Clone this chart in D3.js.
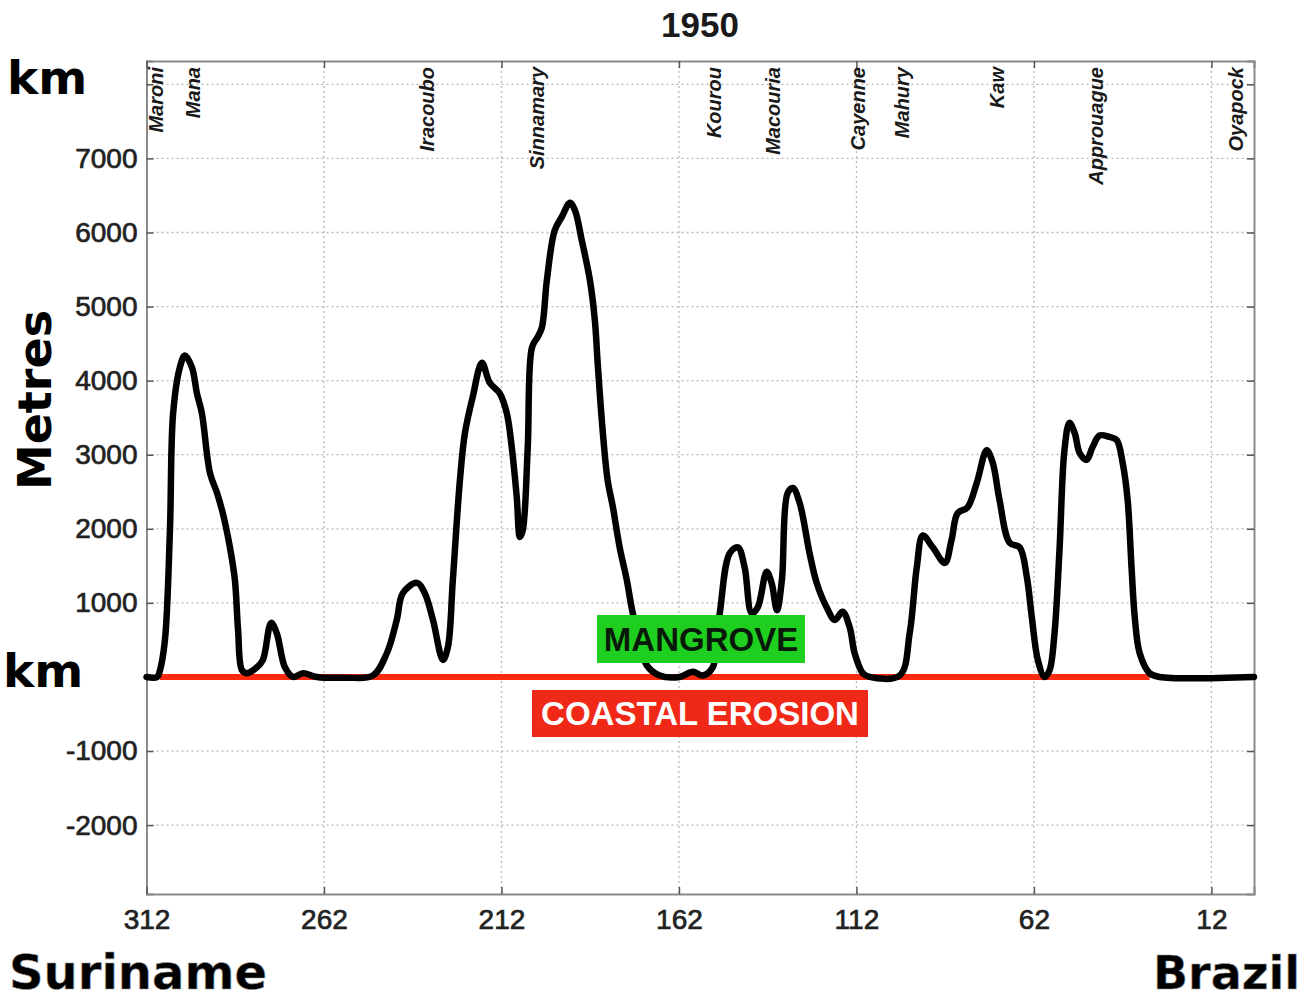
<!DOCTYPE html>
<html>
<head>
<meta charset="utf-8">
<script src="https://cdn.jsdelivr.net/npm/d3@7"></script>
<style>
  html, body { margin: 0; padding: 0; background: #ffffff; }
  svg { display: block; }
</style>
</head>
<body>
<svg id="chart" width="1304" height="999"></svg>
<script>
// ---------------- DATA ----------------
const title = "1950";
const distanceKm = [312, 309.0, 308.2, 306.8, 305.4, 304.5, 302.6, 301.2, 299.2, 297.8,
  296.4, 294.1, 292.1, 290.5, 288.5, 287.1, 286.2, 285.1, 283.7, 280.9,
  279.2, 276.9, 275.3, 273.0, 270.7, 267.9, 264.0, 256.0, 248.2, 244.3,
  241.5, 239.8, 235.8, 233.6, 231.3, 228.5, 227.1, 225.7, 223.7, 222.3,
  220.1, 217.5, 215.3, 212.5, 210.5, 209.1, 207.7, 206.8, 206.0, 204.6,
  203.4, 201.8, 200.6, 199.2, 197.0, 195.0, 192.7, 191.3, 189.4, 187.1,
  185.7, 184.9, 183.5, 182.1, 180.6, 178.7, 176.7, 175.0, 171.1, 167.4,
  161.8, 158.1, 155.3, 152.5, 150.5, 147.7, 145.4, 143.5, 141.5, 139.8,
  137.3, 135.9, 134.4, 133.0, 131.4, 129.9, 128.0, 125.2, 123.2, 120.4,
  118.1, 115.9, 113.9, 112.5, 110.2, 108.3, 99.8, 97.0, 95.0, 93.3,
  90.5, 87.1, 85.2, 83.5, 80.7, 78.1, 75.3, 73.6, 71.7, 68.8,
  66.0, 64.0, 62.6, 60.9, 59.0, 57.6, 56.2, 54.8, 53.4, 52.0,
  50.5, 49.1, 47.2, 45.5, 43.5, 40.7, 38.7, 37.0, 35.6, 34.5,
  33.6, 32.2, 29.4, 26.6, 0];
const widthMetres = [0, 0, 90, 500, 1980, 3560, 4180, 4340, 4180, 3830,
  3560, 2750, 2480, 2210, 1750, 1310, 630, 90, 50, 130,
  230, 730, 590, 130, 0, 50, 0, -10, 20, 320,
  770, 1130, 1270, 1130, 770, 230, 400, 1310, 2660, 3290,
  3780, 4240, 3970, 3830, 3560, 3100, 2430, 1890, 1980, 3100,
  4450, 4590, 4720, 5360, 6030, 6210, 6400, 6300, 5900, 5360,
  4820, 4240, 3330, 2660, 2290, 1750, 1310, 860, 160, 20,
  0, 70, 20, 130, 860, 1670, 1750, 1480, 860, 940,
  1420, 1270, 900, 1310, 2480, 2550, 2350, 1670, 1270, 940,
  770, 880, 670, 320, 50, 0, 20, 590, 1480, 1910,
  1750, 1540, 1850, 2210, 2290, 2620, 3060, 2890, 2390, 1810,
  1750, 1350, 810, 230, 0, 90, 590, 1710, 3060, 3430,
  3290, 3020, 2930, 3100, 3260, 3240, 3200, 2890, 2390, 1480,
  810, 320, 50, 0, 0];
const xTicks = [312, 262, 212, 162, 112, 62, 12];
const yTicks = [8000, 7000, 6000, 5000, 4000, 3000, 2000, 1000, 0, -1000, -2000];
// labels hidden behind the "km" boxes in the original
const yHiddenLabels = [8000, 0];
const riverNames = ["Maroni", "Mana", "Iracoubo", "Sinnamary", "Kourou", "Macouria",
  "Cayenne", "Mahury", "Kaw", "Approuague", "Oyapock"];
const riverKm = [309.3, 298.9, 233.0, 202.0, 152.0, 135.6, 111.7, 99.3, 72.3, 44.4, 5.0];
const erosionKm = [308.2, 29.4];
const mangroveLabel = "MANGROVE";
const erosionLabel = "COASTAL EROSION";
const yLabel = "Metres";
const unitLabel = "km";
const leftLabel = "Suriname";
const rightLabel = "Brazil";

// ---------------- LAYOUT ----------------
const svg = d3.select("#chart");
const L = 146.5, R = 1254, T = 61, B = 894;
const x = d3.scaleLinear().domain([312, 0]).range([L, R]);
const y = d3.scaleLinear().domain([-2930, 8315]).range([B, T]);

svg.append("rect").attr("width", 1304).attr("height", 999).attr("fill", "#ffffff");

// gridlines
const grid = svg.append("g");
grid.selectAll("line.gy").data(yTicks).join("line")
  .attr("x1", L).attr("x2", R)
  .attr("y1", d => y(d)).attr("y2", d => y(d))
  .attr("stroke", "#b8b8b8").attr("stroke-width", 1.3)
  .attr("stroke-dasharray", "2,3");
grid.selectAll("line.gx").data(xTicks.slice(1)).join("line")
  .attr("x1", d => x(d)).attr("x2", d => x(d))
  .attr("y1", T).attr("y2", B)
  .attr("stroke", "#b8b8b8").attr("stroke-width", 1.3)
  .attr("stroke-dasharray", "2,3");

// axes via d3
const fontTick = "'Liberation Sans', Arial, sans-serif";
const yFmt = d => yHiddenLabels.includes(d) ? "" : String(d);
const yAxisL = d3.axisLeft(y).tickValues(yTicks).tickSize(-7).tickPadding(9).tickFormat(yFmt);
const gy = svg.append("g").attr("transform", `translate(${L},0)`).call(yAxisL);
const yAxisR = d3.axisRight(y).tickValues(yTicks).tickSize(-7).tickFormat("");
const gyr = svg.append("g").attr("transform", `translate(${R},0)`).call(yAxisR);
const xAxisB = d3.axisBottom(x).tickValues(xTicks).tickSize(-7).tickPadding(15).tickFormat(d => String(d));
const gx = svg.append("g").attr("transform", `translate(0,${B})`).call(xAxisB);
const xAxisT = d3.axisTop(x).tickValues(xTicks).tickSize(-7).tickFormat("");
const gxt = svg.append("g").attr("transform", `translate(0,${T})`).call(xAxisT);

[gy, gyr, gx, gxt].forEach(g => {
  g.select(".domain").attr("stroke", "#8a8a8a").attr("stroke-width", 2);
  g.selectAll(".tick line").attr("stroke", "#555").attr("stroke-width", 1.5);
  g.selectAll(".tick text")
    .attr("font-family", fontTick).attr("font-size", 28)
    .attr("fill", "#222").attr("stroke", "#222").attr("stroke-width", 0.7);
});
gx.selectAll(".tick text").attr("dy", "0.71em");

// red erosion line
svg.append("line")
  .attr("x1", x(erosionKm[0])).attr("x2", x(erosionKm[1]))
  .attr("y1", y(0)).attr("y2", y(0))
  .attr("stroke", "#ff2a10").attr("stroke-width", 6);

// curve
const pts = distanceKm.map((k, i) => [k, widthMetres[i]]);
const line = d3.line()
  .x(d => x(d[0])).y(d => y(d[1]))
  .curve(d3.curveCatmullRom.alpha(0.5));
svg.append("path").datum(pts)
  .attr("d", line)
  .attr("fill", "none").attr("stroke", "#000")
  .attr("stroke-width", 6.5).attr("stroke-linejoin", "round").attr("stroke-linecap", "round");

// river labels
svg.append("g").selectAll("text").data(riverNames).join("text")
  .attr("transform", (d, i) => `translate(${x(riverKm[i]) + 7},67) rotate(-90)`)
  .attr("text-anchor", "end")
  .attr("font-family", fontTick).attr("font-size", 20)
  .attr("font-style", "italic").attr("font-weight", "bold")
  .attr("fill", "#1a1a1a")
  .text(d => d);

// title
svg.append("text").attr("x", 700).attr("y", 37).attr("text-anchor", "middle")
  .attr("font-family", fontTick).attr("font-size", 35).attr("font-weight", "bold")
  .attr("fill", "#1a1a1a").text(title);

// MANGROVE box
const mg = svg.append("g");
mg.append("rect").attr("x", 597).attr("y", 615).attr("width", 208).attr("height", 48)
  .attr("fill", "#1fcf1f");
mg.append("text").attr("x", 701).attr("y", 651).attr("text-anchor", "middle")
  .attr("font-family", fontTick).attr("font-size", 33).attr("font-weight", "bold")
  .attr("fill", "#0a1a0a").text(mangroveLabel);

// COASTAL EROSION box
const ce = svg.append("g");
ce.append("rect").attr("x", 532).attr("y", 690).attr("width", 336).attr("height", 47)
  .attr("fill", "#f02818");
ce.append("text").attr("x", 700).attr("y", 725).attr("text-anchor", "middle")
  .attr("font-family", fontTick).attr("font-size", 33).attr("font-weight", "bold")
  .attr("fill", "#ffffff").text(erosionLabel);

// km labels
const bigFont = "'DejaVu Sans', Verdana, sans-serif";
svg.append("text").attr("x", 7).attr("y", 94)
  .attr("font-family", bigFont).attr("font-size", 47).attr("font-weight", "bold")
  .attr("fill", "#000").text(unitLabel);
svg.append("text").attr("x", 3).attr("y", 687)
  .attr("font-family", bigFont).attr("font-size", 47).attr("font-weight", "bold")
  .attr("fill", "#000").text(unitLabel);

// Metres
svg.append("text").attr("transform", "translate(51,400) rotate(-90)")
  .attr("text-anchor", "middle")
  .attr("font-family", bigFont).attr("font-size", 46).attr("font-weight", "bold")
  .attr("fill", "#000").text(yLabel);

// Suriname / Brazil
svg.append("text").attr("x", 9).attr("y", 989)
  .attr("font-family", bigFont).attr("font-size", 48).attr("font-weight", "bold")
  .attr("fill", "#000").attr("stroke", "#999").attr("stroke-width", 0.6)
  .text(leftLabel);
svg.append("text").attr("x", 1300).attr("y", 989).attr("text-anchor", "end")
  .attr("font-family", bigFont).attr("font-size", 46).attr("font-weight", "bold")
  .attr("fill", "#000").attr("stroke", "#999").attr("stroke-width", 0.6)
  .text(rightLabel);
</script>
</body>
</html>
